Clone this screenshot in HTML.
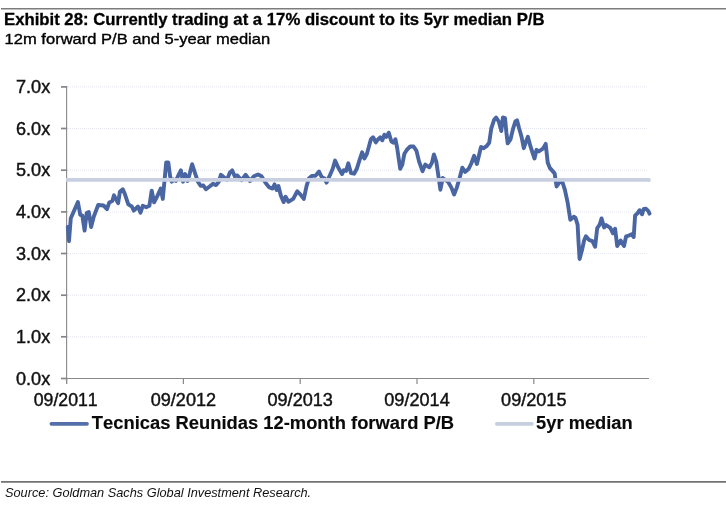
<!DOCTYPE html>
<html><head><meta charset="utf-8"><title>Exhibit 28</title>
<style>
html,body{margin:0;padding:0;background:#fff;}
body{width:726px;height:510px;overflow:hidden;position:relative;font-family:"Liberation Sans",sans-serif;}
svg{position:absolute;left:0;top:0;display:block}
text{font-family:"Liberation Sans",sans-serif;font-kerning:none;}
.ax{font-size:17.5px;fill:#111;stroke:#111;stroke-width:0.42px;}
.lg{font-size:18.3px;font-weight:bold;fill:#0a0a0a;stroke:#0a0a0a;stroke-width:0.15px;}
.t1{font-size:16.4px;font-weight:bold;fill:#000;stroke:#000;stroke-width:0.3px;}
.t2{font-size:14.7px;fill:#000;stroke:#000;stroke-width:0.35px;}
.src{font-size:13.2px;font-style:italic;fill:#111;}
</style></head>
<body>
<svg width="726" height="510" viewBox="0 0 726 510">
<rect x="0" y="0" width="726" height="510" fill="#ffffff"/>
<line x1="1" y1="8.7" x2="726" y2="8.7" stroke="#7c7c7c" stroke-width="1.4"/>
<text x="4" y="24.8" class="t1" textLength="540.5" lengthAdjust="spacingAndGlyphs">Exhibit 28: Currently trading at a 17% discount to its 5yr median P/B</text>
<text x="4.6" y="43.6" class="t2" textLength="265.6" lengthAdjust="spacingAndGlyphs">12m forward P/B and 5-year median</text>
<line x1="61" y1="378.5" x2="67.2" y2="378.5" stroke="#858585" stroke-width="1.7"/>
<line x1="68" y1="336.8" x2="648" y2="336.8" stroke="#e5e7f0" stroke-width="1" stroke-dasharray="1,1"/>
<line x1="61" y1="336.8" x2="67.2" y2="336.8" stroke="#858585" stroke-width="1.7"/>
<line x1="68" y1="295.2" x2="648" y2="295.2" stroke="#e5e7f0" stroke-width="1" stroke-dasharray="1,1"/>
<line x1="61" y1="295.2" x2="67.2" y2="295.2" stroke="#858585" stroke-width="1.7"/>
<line x1="68" y1="253.5" x2="648" y2="253.5" stroke="#e5e7f0" stroke-width="1" stroke-dasharray="1,1"/>
<line x1="61" y1="253.5" x2="67.2" y2="253.5" stroke="#858585" stroke-width="1.7"/>
<line x1="68" y1="211.9" x2="648" y2="211.9" stroke="#e5e7f0" stroke-width="1" stroke-dasharray="1,1"/>
<line x1="61" y1="211.9" x2="67.2" y2="211.9" stroke="#858585" stroke-width="1.7"/>
<line x1="68" y1="170.2" x2="648" y2="170.2" stroke="#e5e7f0" stroke-width="1" stroke-dasharray="1,1"/>
<line x1="61" y1="170.2" x2="67.2" y2="170.2" stroke="#858585" stroke-width="1.7"/>
<line x1="68" y1="128.5" x2="648" y2="128.5" stroke="#e5e7f0" stroke-width="1" stroke-dasharray="1,1"/>
<line x1="61" y1="128.5" x2="67.2" y2="128.5" stroke="#858585" stroke-width="1.7"/>
<line x1="68" y1="86.9" x2="648" y2="86.9" stroke="#e5e7f0" stroke-width="1" stroke-dasharray="1,1"/>
<line x1="61" y1="86.9" x2="67.2" y2="86.9" stroke="#858585" stroke-width="1.7"/>
<line x1="66.6" y1="378.5" x2="66.6" y2="384.0" stroke="#898989" stroke-width="1.2"/>
<line x1="183.4" y1="378.5" x2="183.4" y2="384.0" stroke="#898989" stroke-width="1.2"/>
<line x1="300.2" y1="378.5" x2="300.2" y2="384.0" stroke="#898989" stroke-width="1.2"/>
<line x1="417.0" y1="378.5" x2="417.0" y2="384.0" stroke="#898989" stroke-width="1.2"/>
<line x1="533.8" y1="378.5" x2="533.8" y2="384.0" stroke="#898989" stroke-width="1.2"/>

<line x1="66.6" y1="86.3" x2="66.6" y2="384.0" stroke="#898989" stroke-width="1.1"/>
<line x1="61" y1="378.5" x2="649" y2="378.5" stroke="#898989" stroke-width="1"/>
<text transform="translate(16.0,384.7) scale(1.035,1)" class="ax">0.0x</text>
<text transform="translate(16.0,343.0) scale(1.035,1)" class="ax">1.0x</text>
<text transform="translate(16.0,301.4) scale(1.035,1)" class="ax">2.0x</text>
<text transform="translate(16.0,259.7) scale(1.035,1)" class="ax">3.0x</text>
<text transform="translate(16.0,218.1) scale(1.035,1)" class="ax">4.0x</text>
<text transform="translate(16.0,176.4) scale(1.035,1)" class="ax">5.0x</text>
<text transform="translate(16.0,134.7) scale(1.035,1)" class="ax">6.0x</text>
<text transform="translate(16.0,93.1) scale(1.035,1)" class="ax">7.0x</text>
<text transform="translate(65.7,405.9) scale(1.012,1)" class="ax" text-anchor="middle">09/2011</text>
<text transform="translate(183.4,405.9) scale(1.034,1)" class="ax" text-anchor="middle">09/2012</text>
<text transform="translate(300.2,405.9) scale(1.034,1)" class="ax" text-anchor="middle">09/2013</text>
<text transform="translate(417.0,405.9) scale(1.034,1)" class="ax" text-anchor="middle">09/2014</text>
<text transform="translate(533.8,405.9) scale(1.034,1)" class="ax" text-anchor="middle">09/2015</text>

<polyline points="67.8,227.0 69.0,241.2 70.8,218.2 77.9,202.0 80.2,214.7 82.3,215.6 84.6,230.6 86.7,213.0 88.8,212.0 91.1,227.0 93.8,216.5 98.2,205.0 103.5,205.5 107.0,209.0 109.3,202.4 112.3,201.0 114.0,195.3 118.1,203.2 119.9,191.8 122.8,189.3 124.9,194.1 128.3,204.4 131.8,206.5 133.8,210.6 138.0,206.5 140.5,212.7 142.8,205.8 146.2,207.2 149.4,205.8 151.7,190.6 154.1,202.3 157.3,196.1 160.7,188.6 162.8,198.9 164.8,177.5 166.2,162.4 168.3,162.4 170.1,176.2 171.7,181.7 173.8,179.6 175.9,181.0 178.6,174.8 180.9,170.4 183.0,181.7 185.2,174.1 187.6,181.0 189.6,174.1 192.1,164.2 195.1,173.4 197.9,181.7 200.6,185.8 203.4,185.5 205.9,189.3 209.6,186.5 213.0,183.7 216.1,185.1 218.8,181.7 220.9,174.8 224.3,177.5 227.1,179.6 229.8,172.7 232.2,170.4 234.7,176.2 237.4,175.5 241.5,180.3 245.7,174.8 250.1,181.0 253.9,176.2 258.1,174.5 261.5,176.2 265.7,183.1 269.1,187.2 272.5,188.6 274.6,184.4 276.7,190.0 278.5,186.1 280.8,195.5 283.6,202.1 285.6,196.8 288.4,201.7 293.2,198.9 297.3,191.3 300.1,194.1 303.8,198.9 306.6,185.8 309.0,178.2 311.8,175.9 315.5,175.7 319.0,171.6 321.7,177.1 324.5,178.5 326.5,182.6 330.0,175.0 332.7,168.8 335.1,160.6 338.2,167.5 342.0,174.1 343.7,170.2 346.1,170.9 348.3,163.3 351.0,173.0 354.1,173.7 356.8,168.8 359.6,159.9 362.1,152.3 364.4,158.5 366.7,154.4 369.2,145.4 370.9,139.2 373.1,137.2 375.8,142.4 378.2,139.2 380.2,137.4 382.3,140.3 384.4,134.7 386.4,136.9 388.8,132.7 391.3,141.3 393.3,142.7 395.4,139.2 397.1,147.5 398.8,159.2 400.2,168.8 402.3,164.7 404.4,153.7 407.1,149.5 410.2,146.5 413.6,146.5 416.4,150.6 419.1,161.6 422.5,171.2 425.3,164.6 429.4,167.3 431.9,162.9 433.9,154.4 436.3,161.6 438.3,175.3 440.4,189.7 442.7,178.0 445.2,180.1 447.9,181.5 451.4,187.6 454.1,194.5 456.8,187.6 459.6,178.0 462.3,167.7 465.1,171.9 468.5,169.1 471.3,163.5 474.1,155.8 476.9,164.0 478.9,155.8 481.0,146.9 483.7,148.2 486.5,146.2 489.2,142.7 491.3,128.3 494.0,120.1 496.1,117.6 498.8,121.5 501.3,131.1 502.9,117.4 505.0,118.0 506.4,132.5 507.7,143.4 510.5,139.3 513.2,128.3 515.3,121.5 517.1,120.4 519.1,128.3 521.5,136.6 523.8,148.2 526.3,140.7 527.9,136.8 530.4,146.2 532.4,152.4 534.5,158.5 536.5,149.8 538.8,151.5 542.9,148.7 545.7,143.9 547.7,162.5 549.8,167.9 554.6,173.4 556.6,186.5 559.4,182.4 562.1,181.0 564.9,189.9 567.6,202.3 570.3,219.8 573.8,216.8 575.4,217.7 577.6,224.6 578.6,243.2 579.6,259.0 582.0,250.1 584.1,240.5 585.9,236.3 588.9,239.8 592.4,241.1 595.1,246.7 597.2,228.1 599.7,224.6 601.6,218.4 604.1,227.4 606.1,225.0 610.3,227.8 613.0,233.3 615.1,228.7 617.2,246.0 620.6,240.5 624.0,246.0 626.1,236.3 628.9,235.6 631.6,234.3 633.7,237.0 635.1,215.7 637.8,212.9 639.6,210.2 642.0,214.3 643.7,209.0 646.1,208.8 648.2,210.8 649.5,213.6" fill="none" stroke="#4a66a2" stroke-width="3.9" stroke-linejoin="round" stroke-linecap="round"/>
<line x1="66" y1="179.9" x2="649" y2="179.9" stroke="#c7cfe1" stroke-width="3.8"/>
<circle cx="649" cy="179.9" r="1.9" fill="#c7cfe1"/>
<line x1="51.4" y1="423.8" x2="87.0" y2="423.8" stroke="#546fa9" stroke-width="3.7" stroke-linecap="round"/>
<text transform="translate(91.8,428.8) scale(1.004,1)" class="lg">Tecnicas Reunidas 12-month forward P/B</text>

<line x1="496.8" y1="423.8" x2="532" y2="423.8" stroke="#c6cfe0" stroke-width="3.7" stroke-linecap="round"/>
<text transform="translate(536.1,428.9) scale(1.0,1)" class="lg">5yr median</text>

<line x1="1" y1="481.85" x2="726" y2="481.85" stroke="#727272" stroke-width="1.6"/>
<text transform="translate(5.0,497.0) scale(0.967,1)" class="src">Source: Goldman Sachs Global Investment Research.</text>

</svg>
</body></html>
